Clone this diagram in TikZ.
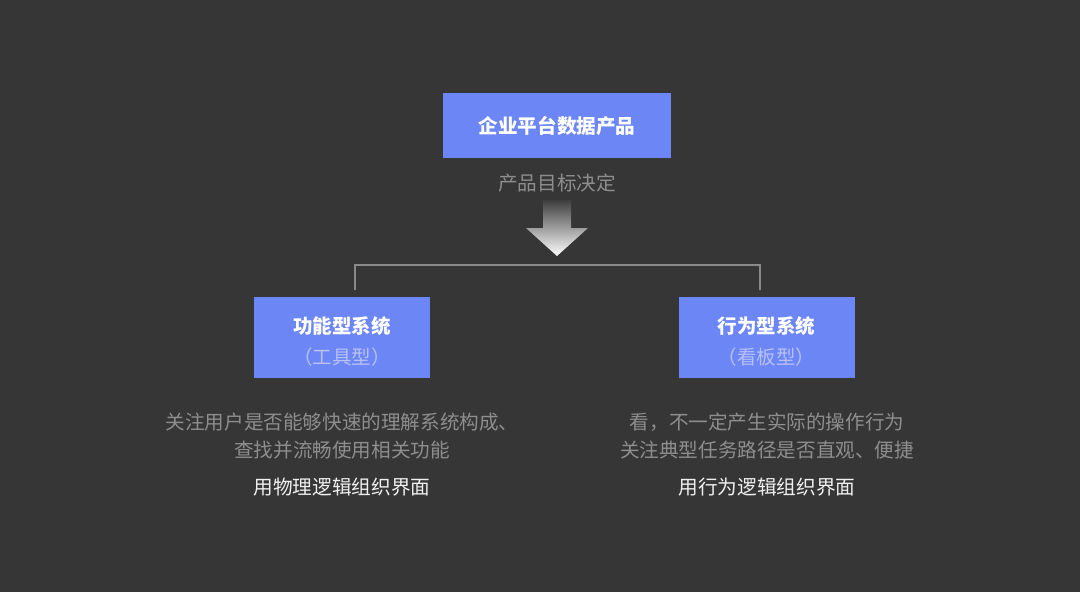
\documentclass[tikz,border=0pt]{standalone}
\usepackage{fontspec}
\newfontfamily\cjk{Noto Sans CJK SC}
\usetikzlibrary{positioning}
\definecolor{bgdark}{HTML}{363636}
\definecolor{boxblue}{HTML}{6D86F5}
\definecolor{notegray}{HTML}{8E8E8E}
\definecolor{subblue}{HTML}{B6C1F8}
\definecolor{linegray}{HTML}{8A8A8A}
\definecolor{arrowtop}{HTML}{3E3E3E}
\tikzset{
  sysbox/.style={fill=boxblue, inner sep=0pt, minimum width=132pt, minimum height=60.75pt},
  boxtext/.style={align=center, text=white, inner sep=0pt, font=\cjk\fontsize{14.6}{23.25}\selectfont},
  note/.style={align=center, text=notegray, inner sep=0pt, font=\cjk\fontsize{14.7}{21}\selectfont},
  verdict/.style={text=white!94!black, inner sep=0pt, font=\cjk\fontsize{14.75}{21}\selectfont}
}
\begin{document}
\begin{tikzpicture}[x=0.75pt, y=-0.75pt]
  \useasboundingbox (0,0) rectangle (1080,592);
  \fill[bgdark] (0,0) rectangle (1080,592);
  % top product
  \node[sysbox, minimum width=171pt, minimum height=48.75pt] (product) at (557,125.5) {};
  \node[boxtext, font=\cjk\bfseries\fontsize{14.7}{18}\selectfont] (product-text) at (product.center) {企业平台数据产品};
  \node[note] (goal) at (557,183) {产品目标决定};
  % arrow
  \shade[top color=arrowtop, bottom color=white] (543,200) -- (571,200) -- (571,228) -- (588,228)
    -- (557,256) -- (526,228) -- (543,228) -- cycle;
  % two systems
  \node[sysbox] (funcsys) at (342,337.5) {};
  \node[boxtext] (funcsys-text) at ([yshift=-3pt]funcsys.center) {{\bfseries 功能型系统}\\{\color{subblue}（工具型）}};
  \node[sysbox] (behsys) at (766.5,337.5) {};
  \node[boxtext] (behsys-text) at ([yshift=-3pt]behsys.center) {{\bfseries 行为型系统}\\{\color{subblue}（看板型）}};
  \coordinate (fork-l) at (355,290);
  \coordinate (fork-r) at (760,290);
  \coordinate (fork-lt) at (355,265);
  \coordinate (fork-rt) at (760,265);
  \draw[linegray, line width=1.1pt] (fork-l) -- (fork-lt) -- (fork-rt) -- (fork-r);
  % notes
  \node[note] (funcnote) at (342,436) {关注用户是否能够快速的理解系统构成、\\查找并流畅使用相关功能};
  \node[verdict] (funcway) at (342,487) {用物理逻辑组织界面};
  \node[note] (behnote) at (767,436) {看，不一定产生实际的操作行为\\关注典型任务路径是否直观、便捷};
  \node[verdict] (behway) at (767,487) {用行为逻辑组织界面};
\end{tikzpicture}
\end{document}
